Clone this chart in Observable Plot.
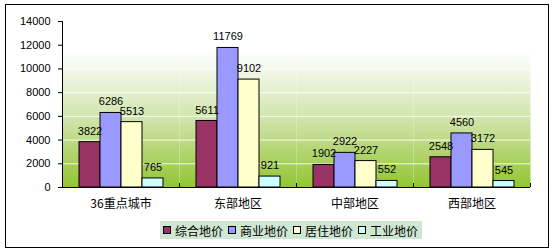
<!DOCTYPE html>
<html>
<head>
<meta charset="utf-8">
<script src="https://cdn.jsdelivr.net/npm/d3@7"></script>
<script src="https://cdn.jsdelivr.net/npm/@observablehq/plot@0.6"></script>
<style>
  body { margin: 0; background: #fff; }
  #wrap { position: relative; width: 555px; height: 252px; overflow: hidden; }
  #border { position: absolute; left: 5px; top: 4px; width: 544px; height: 244px; border: 1px solid #000; box-sizing: border-box; }
  #chart { position: absolute; left: 0; top: 0; }
  #legend { position: absolute; left: 160px; top: 221px; width: 262px; height: 18px; background: #cfe7d2;
    display: flex; align-items: center; font-family: "Noto Sans CJK SC", sans-serif; font-size: 12px; color: #000; }
  .item { display: flex; align-items: center; margin-left: 0; margin-right: 5px; white-space: nowrap; }
  .item:first-child { margin-left: 3px; }
  .sw { width: 6px; height: 6px; border: 1px solid #000; margin-right: 4px; }
</style>
</head>
<body>
<div id="wrap">
  <div id="border"></div>
  <div id="chart"></div>
  <div id="legend"></div>
</div>
<script>
const categories = ["36重点城市", "东部地区", "中部地区", "西部地区"];
const seriesNames = ["综合地价", "商业地价", "居住地价", "工业地价"];
const composite = [3822, 5611, 1902, 2548];
const commercial = [6286, 11769, 2922, 4560];
const residential = [5513, 9102, 2227, 3172];
const industrial = [765, 921, 552, 545];
const yTicks = [0, 2000, 4000, 6000, 8000, 10000, 12000, 14000];
const colors = ["#993366", "#9999ff", "#ffffcc", "#ccffff"];

const seriesValues = [composite, commercial, residential, industrial];
const data = [];
categories.forEach((c, i) => {
  seriesNames.forEach((s, j) => data.push({cat: c, series: s, value: seriesValues[j][i]}));
});

const numFont = "Liberation Sans, Arial, sans-serif";
const cjkFont = "Noto Sans CJK SC, sans-serif";

const chart = Plot.plot({
  width: 555,
  height: 215,
  marginLeft: 62,
  marginRight: 25,
  marginTop: 21,
  marginBottom: 28,
  style: {background: "transparent", color: "#000"},
  fx: {domain: categories, padding: 0, label: null, axis: null},
  x: {domain: seriesNames, paddingInner: 0, paddingOuter: 0.72, axis: null},
  y: {domain: [0, 14000], axis: null},
  color: {domain: seriesNames, range: colors},
  marks: [
    Plot.frame({fill: "url(#bgGrad)", stroke: "none"}),
    Plot.ruleY(yTicks.filter(d => d > 0), {stroke: "#ffffff", strokeOpacity: 0.85}),
    Plot.barY(data, {fx: "cat", x: "series", y: "value", fill: "series", stroke: "#000", strokeWidth: 1}),
    Plot.ruleY([0], {stroke: "#000"}),
    Plot.text(data, {fx: "cat", x: "series", y: "value", text: d => String(d.value), dy: -11,
      fontSize: 11, fontFamily: numFont, fill: "#000"}),
    Plot.axisY({ticks: yTicks, tickSize: 4, tickPadding: 8, tickFormat: d => String(d), label: null,
      fontSize: 11, fontFamily: numFont, stroke: "#000"}),
    Plot.axisFx({anchor: "bottom", tickSize: 0, tickPadding: 12, label: null, fontSize: 12, fontFamily: cjkFont})
  ]
});

// gradient definition for the plot background
const svg = d3.select(chart);
const grad = svg.insert("defs", ":first-child").append("linearGradient")
  .attr("id", "bgGrad").attr("x1", 0).attr("y1", 0).attr("x2", 0).attr("y2", 1);
grad.append("stop").attr("offset", "0%").attr("stop-color", "#ffffff");
grad.append("stop").attr("offset", "18%").attr("stop-color", "#ffffff");
grad.append("stop").attr("offset", "60%").attr("stop-color", "#cfe3a8");
grad.append("stop").attr("offset", "100%").attr("stop-color", "#92c530");

// axis lines and category boundary ticks, placed from the fx and y scales
const fx = chart.scale("fx");
const ys = chart.scale("y");
const y0 = ys.apply(0);
const yTop = ys.apply(14000);
const xLeft = fx.apply(categories[0]);
const bounds = categories.map(c => fx.apply(c) + fx.bandwidth);
const g = svg.append("g").attr("stroke", "#000").attr("shape-rendering", "crispEdges");
g.append("line").attr("x1", xLeft + 0.5).attr("x2", xLeft + 0.5).attr("y1", yTop).attr("y2", y0);
g.selectAll("line.b").data(bounds).join("line").attr("class", "b")
  .attr("x1", d => d).attr("x2", d => d).attr("y1", y0).attr("y2", y0 - 4);

document.getElementById("chart").appendChild(chart);

// legend
const legend = d3.select("#legend");
seriesNames.forEach((s, i) => {
  const it = legend.append("div").attr("class", "item");
  it.append("div").attr("class", "sw").style("background", colors[i]);
  it.append("span").text(s);
});
</script>
</body>
</html>
